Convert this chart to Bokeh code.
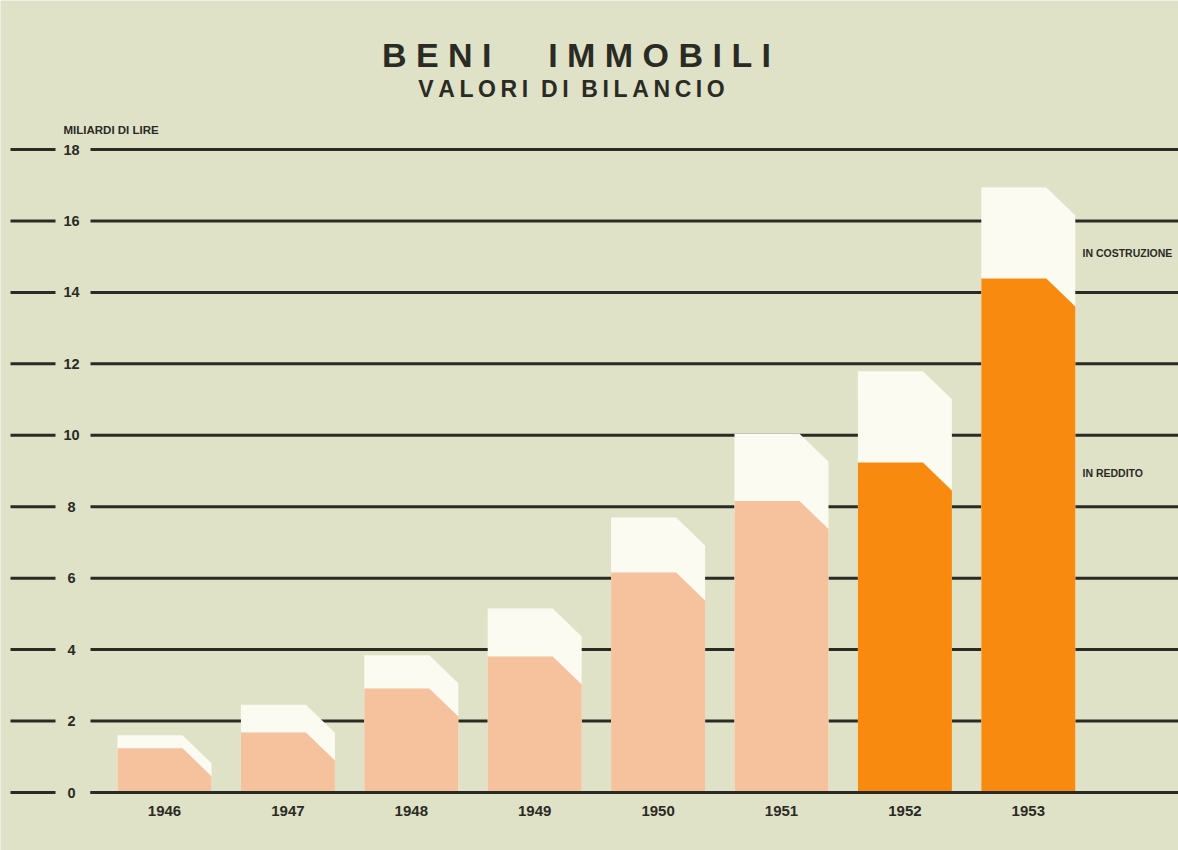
from bokeh.plotting import figure
from bokeh.models import Range1d, ColumnDataSource
from bokeh.core.properties import value
from bokeh.embed import file_html
from bokeh.resources import INLINE

# ---------------- data ----------------
years = ["1946", "1947", "1948", "1949", "1950", "1951", "1952", "1953"]
in_reddito = [1.24, 1.68, 2.91, 3.81, 6.16, 8.16, 9.24, 14.39]
in_costruzione = [0.36, 0.78, 0.93, 1.34, 1.54, 1.88, 2.55, 2.55]
y_ticks = [0, 2, 4, 6, 8, 10, 12, 14, 16, 18]

NB = "\u00a0"   # non-collapsing space
TH = "\u2009"   # thin space
title_text = NB.join("BENI") + NB * 6 + NB.join("IMMOBILI")
subtitle_text = (TH.join("VALORI") + NB * 2 + TH.join("DI") + NB * 2
                 + TH.join("BILANCIO"))
unit_text = "MILIARDI" + NB + "DI" + NB + "LIRE"
label_costr = "IN" + NB + "COSTRUZIONE"
label_redd = "IN" + NB + "REDDITO"

# ---------------- styling / layout ----------------
BG = "#e0e2c7"
WHITE = "#fbfbf1"
PEACH = "#f6c19d"
ORANGE = "#f98a10"
INK = "#2a2b24"
FONT = value("Liberation Sans")
reddito_colors = [PEACH] * 6 + [ORANGE] * 2

FIG_W, FIG_H = 1178, 850
PX_X, X0PX = 123.4, 164.0     # px per slot, px of first slot center
PX_Y, Y0PX = 35.72, 792.0     # px per unit, px of zero line (from top)


def xu(px):
    return (px - X0PX) / PX_X


def yu(py):
    return (Y0PX - py) / PX_Y


p = figure(width=FIG_W, height=FIG_H,
           x_range=Range1d(xu(0), xu(FIG_W)),
           y_range=Range1d(yu(FIG_H), yu(0)),
           x_axis_type=None, y_axis_type=None,
           toolbar_location=None, output_backend="svg",
           min_border=0, background_fill_color=BG,
           border_fill_color=BG, outline_line_color=None)

# ---------------- grid lines ----------------
n = len(y_ticks)
grid_src = ColumnDataSource(dict(
    y=y_ticks,
    xa0=[xu(10)] * n, xa1=[xu(55)] * n,
    xb0=[xu(90)] * n, xb1=[xu(FIG_W)] * n,
    lab=[str(v) for v in y_ticks], xl=[xu(71)] * n))
p.segment(x0="xa0", y0="y", x1="xa1", y1="y", source=grid_src,
          line_color=INK, line_width=3)
p.segment(x0="xb0", y0="y", x1="xb1", y1="y", source=grid_src,
          line_color=INK, line_width=3)
p.text(x="xl", y="y", text="lab", source=grid_src, text_font=FONT,
       text_font_style="bold", text_font_size="14.5px", text_color=INK,
       text_align="center", text_baseline="middle")

# ---------------- bars with chamfered corner ----------------
half_w = 47 / PX_X
cdx = 29 / PX_X
cdy = 28 / PX_Y


def chamfer(i, top):
    d = min(cdy, top)
    return ([i - half_w, i - half_w, i + half_w - cdx, i + half_w, i + half_w],
            [0, top, top, top - d, 0])


totals = [r + c for r, c in zip(in_reddito, in_costruzione)]
wx, wy, rx, ry = [], [], [], []
for i, (t, r) in enumerate(zip(totals, in_reddito)):
    a, b = chamfer(i, t)
    wx.append(a); wy.append(b)
    a, b = chamfer(i, r)
    rx.append(a); ry.append(b)

p.patches(xs=wx, ys=wy, fill_color=WHITE, line_color=None)
p.patches(xs=rx, ys=ry, fill_color=reddito_colors, line_color=None)

# zero line on top of bars
p.segment(x0=[xu(90)], y0=[0], x1=[xu(FIG_W)], y1=[0], line_color=INK, line_width=3)

# year labels
p.text(x=list(range(len(years))), y=[yu(810)] * len(years), text=years,
       text_font=FONT, text_font_style="bold", text_font_size="15px",
       text_color=INK, text_align="center", text_baseline="middle")

# ---------------- titles and annotations ----------------
p.text(x=[xu(576)], y=[yu(54)], text=[title_text], text_font=FONT,
       text_font_style="bold", text_font_size="34px", text_color=INK,
       text_align="center", text_baseline="middle")
p.text(x=[xu(571)], y=[yu(88)], text=[subtitle_text], text_font=FONT,
       text_font_style="bold", text_font_size="23px", text_color=INK,
       text_align="center", text_baseline="middle")
p.text(x=[xu(63)], y=[yu(129)], text=[unit_text], text_font=FONT,
       text_font_style="bold", text_font_size="11.5px", text_color=INK,
       text_align="left", text_baseline="middle")
p.text(x=[xu(1082), xu(1082)], y=[yu(252), yu(472)], text=[label_costr, label_redd],
       text_font=FONT, text_font_style="bold", text_font_size="10.5px",
       text_color=INK, text_align="left", text_baseline="middle")

open("out.html", "w").write(file_html(p, INLINE))
